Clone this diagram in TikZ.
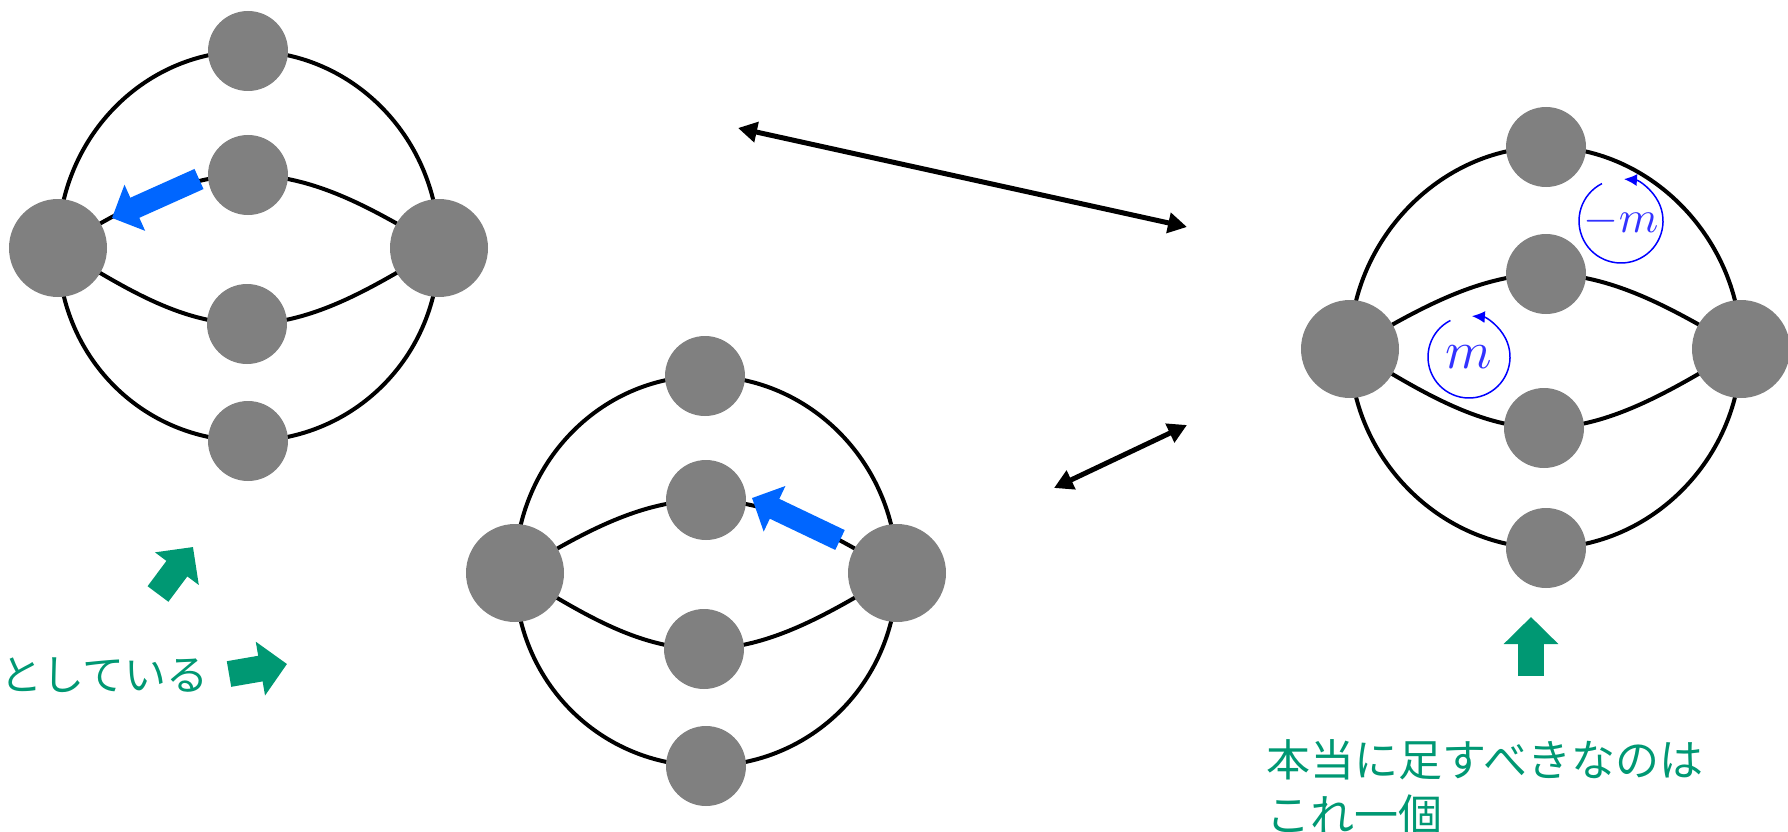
\documentclass[tikz,border=0pt]{standalone}
\usepackage{fontspec}
\newfontfamily\jpfont{Noto Sans CJK JP}
\usetikzlibrary{arrows.meta,backgrounds}
\definecolor{nodegray}{RGB}{128,128,128}
\definecolor{arrowblue}{RGB}{0,102,255}
\definecolor{jgreen}{RGB}{0,152,115}
\definecolor{mblue}{RGB}{50,50,255}
\newcommand\drawmelon[1]{%
  \draw[edge] (#1L.center) .. controls +(0,-108) and +(-106,0) .. (#1T.center)
     .. controls +(106,0) and +(0,-108) .. (#1R.center)
     .. controls +(0,108) and +(106,0) .. (#1B.center)
     .. controls +(-106,0) and +(0,108) .. (#1L.center);
  \draw[edge] (#1L.center) .. controls +(60,-35) and +(-70,0) .. (#1U.center)
     .. controls +(70,0) and +(-60,-35) .. (#1R.center);
  \draw[edge] (#1L.center) .. controls +(60,35) and +(-70,0) .. (#1D.center)
     .. controls +(70,0) and +(-60,35) .. (#1R.center);
}
\begin{document}
\begin{tikzpicture}[x=1pt,y=-1pt,
  small/.style={circle,fill=nodegray,minimum size=80pt,inner sep=0pt},
  big/.style={circle,fill=nodegray,minimum size=98pt,inner sep=0pt},
  edge/.style={black,line width=4pt},
  bluearrow/.style={arrowblue,line width=22pt,-{Triangle[length=25pt,width=49pt]}},
  dblarrow/.style={black,line width=5pt,{Triangle[length=19pt,width=20pt]}-{Triangle[length=19pt,width=20pt]}},
  greenarrow/.style={jgreen,line width=26pt,-{Triangle[length=27pt,width=53pt]}},
  jtext/.style={text=jgreen,inner sep=0pt,align=left},
  loopm/.style={blue,line width=1.5pt,-{Latex[length=13pt,width=12pt]}}
]
\useasboundingbox (0,0) rectangle (1788,832);
% diagram 1
\node[small] (aT) at (248,51) {};
\node[small] (aU) at (248,175) {};
\node[small] (aD) at (247,324) {};
\node[small] (aB) at (248,441) {};
\node[big] (aL) at (58,248) {};
\node[big] (aR) at (439,248) {};
% diagram 2
\node[small] (bT) at (705,376) {};
\node[small] (bU) at (706,500) {};
\node[small] (bD) at (704,649) {};
\node[small] (bB) at (706,766) {};
\node[big] (bL) at (515,573) {};
\node[big] (bR) at (897,573) {};
% diagram 3
\node[small] (cT) at (1546,147) {};
\node[small] (cU) at (1546,274) {};
\node[small] (cD) at (1544,428) {};
\node[small] (cB) at (1546,548) {};
\node[big] (cL) at (1350,349) {};
\node[big] (cR) at (1741,349) {};
\begin{scope}[on background layer]
  \drawmelon{a}
  \drawmelon{b}
  \drawmelon{c}
\end{scope}
% blue arrows
\coordinate (ba1s) at (199,179);
\coordinate (ba1e) at (112,218);
\draw[bluearrow] (ba1s) -- (ba1e);
\coordinate (ba2s) at (840,540);
\coordinate (ba2e) at (752,498);
\draw[bluearrow] (ba2s) -- (ba2e);
% double arrows
\coordinate (d1s) at (738,128);
\coordinate (d1e) at (1187,227);
\draw[dblarrow] (d1s) -- (d1e);
\coordinate (d2s) at (1054,488);
\coordinate (d2e) at (1187,425);
\draw[dblarrow] (d2s) -- (d2e);
% m loops
\node[text=mblue,inner sep=0pt,scale=5.3] (mlab) at (1469,357) {$m$};
\draw[loopm] (mlab.center) ++(-117:41) arc[start angle=-117,end angle=-446,radius=41];
\node[text=mblue,inner sep=0pt,scale=4.5] (mmlab) at (1621,221) {$-m$};
\draw[loopm] (mmlab.center) ++(-117:42) arc[start angle=-117,end angle=-446,radius=42];
% green arrows
\coordinate (g1s) at (158,594);
\coordinate (g1e) at (193,547);
\draw[greenarrow] (g1s) -- (g1e);
\coordinate (g2s) at (229,674);
\coordinate (g2e) at (287,664);
\draw[greenarrow] (g2s) -- (g2e);
\coordinate (g3s) at (1531,676);
\coordinate (g3e) at (1531,617);
\draw[greenarrow] (g3s) -- (g3e);
% texts
\node[jtext,anchor=base west,font=\jpfont\fontsize{42}{54}\selectfont] (t1) at (0,690) {としている};
\node[jtext,anchor=base west,font=\jpfont\fontsize{44}{55}\selectfont] (t2) at (1266,831) {本当に足すべきなのは\\これ一個};
\end{tikzpicture}
\end{document}
